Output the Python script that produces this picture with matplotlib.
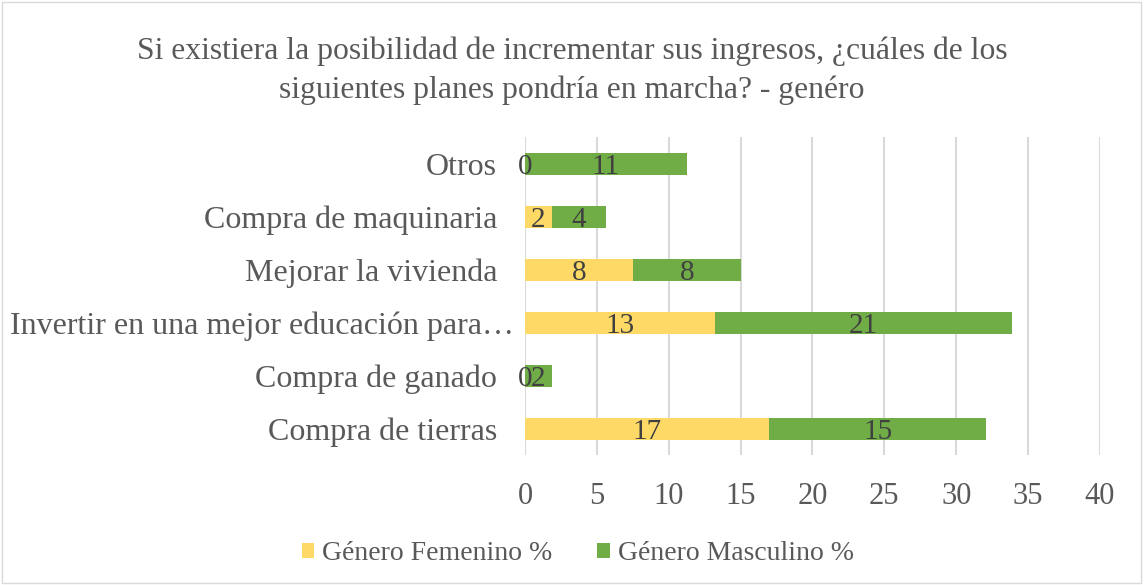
import matplotlib
matplotlib.use("Agg")
import matplotlib.pyplot as plt
from matplotlib.patches import Rectangle
from matplotlib.transforms import ScaledTranslation

categories = ["Compra de tierras", "Compra de ganado",
              "Invertir en una mejor educación para…", "Mejorar la vivienda",
              "Compra de maquinaria", "Otros"]
femenino = [17.0, 0.0, 13.2, 7.5, 1.85, 0.0]
masculino = [15.1, 1.85, 20.7, 7.5, 3.8, 11.25]
xticks = [0, 5, 10, 15, 20, 25, 30, 35, 40]

plt.rcParams['font.family'] = ['Liberation Serif', 'DejaVu Serif']
fig = plt.figure(figsize=(11.44, 5.85), dpi=100)
ax = fig.add_axes([0.4589, 0.2214, 0.5026, 0.5436])

yel = "#FFD966"
grn = "#70AD47"
y = list(range(len(categories)))
ax.barh(y, femenino, height=0.41, color=yel, label="Género Femenino %", zorder=3)
ax.barh(y, masculino, left=femenino, height=0.41, color=grn, label="Género Masculino %", zorder=3)

for i in y:
    f = femenino[i]; m = masculino[i]
    ax.text(f / 2, i, f"{round(f):d}", ha="center", va="center_baseline", fontsize=21, color="#404040", zorder=4)
    ax.text(f + m / 2, i, f"{round(m):d}", ha="center", va="center_baseline", fontsize=21, color="#404040", zorder=4)

ax.set_xlim(0, 40)
ax.set_ylim(-0.5, len(categories) - 0.5)
ax.set_xticks(xticks)
ax.set_xticklabels([str(t) for t in xticks], fontsize=22, color="#595959")
ax.set_yticks(y)
ax.set_yticklabels(categories, fontsize=23, color="#595959")
ax.tick_params(axis="x", length=0, pad=19)
ax.tick_params(axis="y", length=0, pad=20)
ax.grid(axis="x", color="#D9D9D9", linewidth=1.5, zorder=0)
for s in ax.spines.values():
    s.set_visible(False)
lbl = ax.get_yticklabels()[2]
lbl.set_transform(lbl.get_transform() + ScaledTranslation(0.17, 0, fig.dpi_scale_trans))

fig.text(0.5, 0.879, "Si existiera la posibilidad de incrementar sus ingresos, ¿cuáles de los\nsiguientes planes pondría en marcha? - genéro",
         ha="center", va="center", fontsize=22.8, color="#595959", linespacing=1.42)

fig.legend(loc="center", bbox_to_anchor=(0.505, 0.053), ncol=2, frameon=False,
           fontsize=20, handlelength=0.45, handleheight=0.45, handletextpad=0.3,
           columnspacing=1.6, labelcolor="#595959")

fig.patches.append(Rectangle((0.002, 0.003), 0.995, 0.993, transform=fig.transFigure,
                             fill=False, edgecolor="#D9D9D9", linewidth=1))
fig.savefig("out.png", dpi=100)
